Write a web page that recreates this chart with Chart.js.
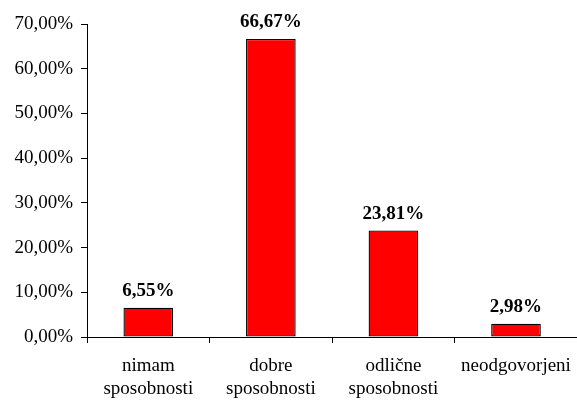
<!DOCTYPE html>
<html><head><meta charset="utf-8">
<script src="https://cdn.jsdelivr.net/npm/chart.js@4"></script>
<style>
html,body{margin:0;padding:0;background:#fff;overflow:hidden;}
#wrap{width:583px;height:401px;position:relative;}
</style></head>
<body><div id="wrap"><canvas id="c"></canvas></div>
<script>
const categories = [['nimam','sposobnosti'], ['dobre','sposobnosti'], ['odlične','sposobnosti'], 'neodgovorjeni'];
const values = [6.55, 66.67, 23.81, 2.98];
const yTicks = [0, 10, 20, 30, 40, 50, 60, 70];

const fmt = v => v.toFixed(2).replace('.', ',') + '%';
const FONT = '"Liberation Serif","Times New Roman",serif';

const labelPlugin = {
  id: 'vals',
  afterDatasetsDraw(chart) {
    const ctx = chart.ctx;
    const meta = chart.getDatasetMeta(0);
    ctx.save();
    ctx.font = 'bold 19px ' + FONT;
    ctx.fillStyle = '#000';
    ctx.textAlign = 'center';
    ctx.textBaseline = 'alphabetic';
    meta.data.forEach((bar, i) => {
      ctx.fillText(fmt(values[i]), bar.x, bar.y - 12);
    });
    ctx.restore();
  }
};

new Chart(document.getElementById('c'), {
  type: 'bar',
  data: {
    labels: categories,
    datasets: [{
      data: values,
      backgroundColor: '#ff0000',
      borderColor: '#000000',
      borderWidth: 1.3,
      borderSkipped: false,
      categoryPercentage: 1,
      barPercentage: 0.405
    }]
  },
  options: {
    responsive: true,
    maintainAspectRatio: false,
    animation: false,
    plugins: { legend: { display: false }, tooltip: { enabled: false } },
    layout: { padding: { top: 24, right: 1, left: 0, bottom: 0 } },
    scales: {
      x: {
        afterFit: s => { s.height = 401 - 337; },
        grid: { offset: true, drawOnChartArea: false, drawTicks: true, tickLength: 6, color: '#000' },
        border: { color: '#000', width: 1 },
        ticks: { color: '#000', font: { family: FONT, size: 19, lineHeight: 1.2 }, padding: 12, maxRotation: 0, autoSkip: false }
      },
      y: {
        min: 0, max: 70,
        afterFit: s => { s.width = 87; },
        afterBuildTicks: s => { s.ticks = yTicks.map(v => ({ value: v })); },
        grid: { drawOnChartArea: false, drawTicks: true, tickLength: 6, color: '#000' },
        border: { color: '#000', width: 1 },
        ticks: { color: '#000', font: { family: FONT, size: 19 }, padding: 8, callback: v => fmt(v) }
      }
    }
  },
  plugins: [labelPlugin]
});
</script></body></html>
